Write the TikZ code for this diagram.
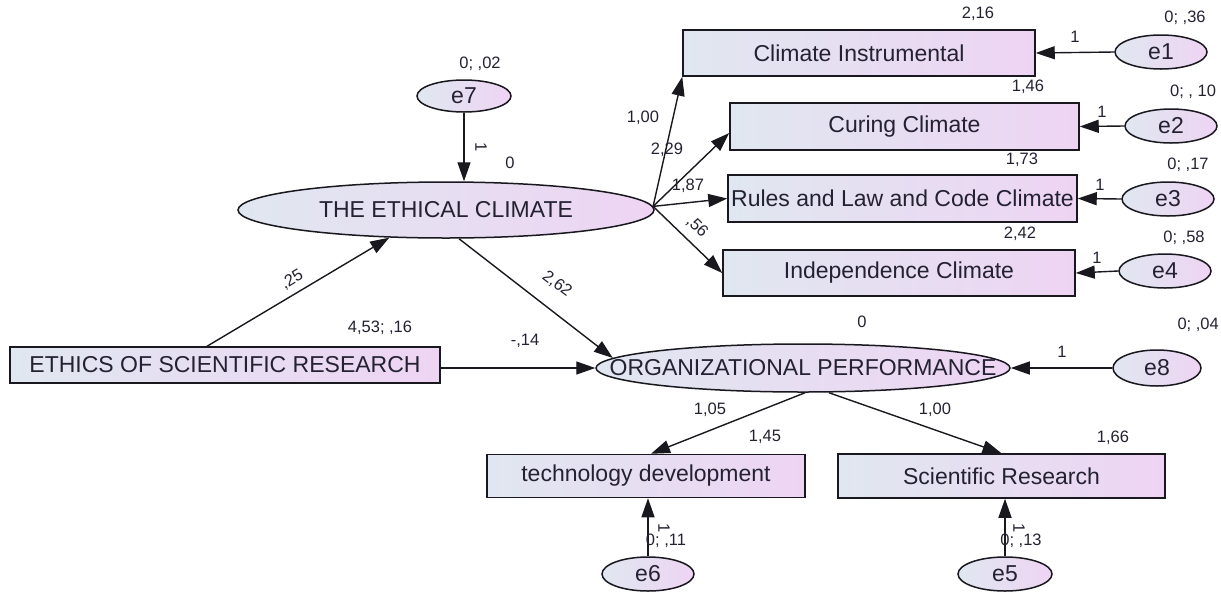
\documentclass[tikz,border=0pt]{standalone}
\usepackage{fontspec}
\setmainfont{Liberation Sans}
\usetikzlibrary{shapes.geometric,arrows.meta}
\definecolor{fillL}{RGB}{224,231,240}
\definecolor{fillR}{RGB}{238,212,243}
\definecolor{ink}{RGB}{24,24,30}
\definecolor{txt}{RGB}{36,34,50}
\begin{document}
\begin{tikzpicture}[x=1pt,y=-1pt,
  obs/.style={draw=ink,line width=1.5pt,left color=fillL,right color=fillR,
    inner sep=0pt,font=\fontsize{23}{25}\selectfont,text=txt},
  lat/.style={ellipse,obs},
  errv/.style={ellipse,obs,minimum width=92pt,minimum height=34pt},
  pth/.style={draw=ink,line width=1.4pt,-{Triangle[length=19pt,width=13pt]}},
  num/.style={font=\fontsize{16.5}{18}\selectfont,text=txt,inner sep=0pt},
]
\useasboundingbox (0,0) rectangle (1221,598);

% observed indicators
\node[obs,minimum width=352pt,minimum height=46pt] (ci) at (859,53) {Climate Instrumental};
\node[obs,minimum width=349pt,minimum height=47pt] (cc) at (904.5,126.5) {Curing Climate};
\node[obs,minimum width=349pt,minimum height=47pt] (rl) at (902.5,198.5) {Rules and Law and Code Climate};
\node[obs,minimum width=352pt,minimum height=46pt] (ic) at (899,273) {Independence Climate};
\node[obs,minimum width=430pt,minimum height=36pt] (esr) at (225,365) {ETHICS OF SCIENTIFIC RESEARCH};
\node[obs,minimum width=318pt,minimum height=43pt] (td) at (646,476) {technology development};
\node[obs,minimum width=327pt,minimum height=44pt] (sr) at (1001.5,476) {Scientific Research};

% latent variables
\node[lat,minimum width=416pt,minimum height=56pt,
  label={[font=\fontsize{23}{25}\selectfont,text=txt]center:THE ETHICAL CLIMATE}] (ec) at (446,210) {};
\node[lat,minimum width=414pt,minimum height=48pt,
  label={[font=\fontsize{23}{25}\selectfont,text=txt]center:ORGANIZATIONAL PERFORMANCE}] (org) at (803,368) {};

% error terms
\node[errv] (e1) at (1161,52) {e1};
\node[errv] (e2) at (1171,126) {e2};
\node[errv] (e3) at (1168,199) {e3};
\node[errv] (e4) at (1165,271) {e4};
\node[errv,minimum width=94pt,minimum height=32pt] (e7) at (464,96) {e7};
\node[errv,minimum width=88pt,minimum height=36pt] (e8) at (1157,368) {e8};
\node[errv] (e6) at (648,574) {e6};
\node[errv,minimum width=94pt] (e5) at (1005,574) {e5};

% paths
\draw[pth] (e1.west) -- (ci.east);
\draw[pth] (e2.west) -- (cc.east);
\draw[pth] (e3.west) -- (rl.east);
\draw[pth] (e4.west) -- (ic.east);
\draw[pth] (e7.south) -- (e7.south |- ec.north);
\draw[pth] (ec.1.5) -- (ci.south west);
\draw[pth] (ec.1.5) -- ([yshift=-6.5pt]cc.west);
\draw[pth] (ec.1.5) -- (rl.west);
\draw[pth] (ec.1.5) -- (ic.west);
\draw[pth] ([xshift=-18pt]esr.north) -- (ec.206);
\draw[pth] (esr.east |- org.west) -- (org.west);
\draw[pth] ([xshift=13pt]ec.south) -- (org.177);
\draw[pth] (e8.west) -- (org.east);
\draw[pth] ([xshift=2pt]org.south) -- ([xshift=5pt]td.north);
\draw[pth] ([xshift=26pt]org.south) -- (sr.north);
\draw[pth] (e6.north) -- (e6.north |- td.south);
\draw[pth] (e5.north) -- (e5.north |- sr.south);

% estimates
\node[num] (v1) at (978,14) {2,16};
\node[num] (v2) at (1028,87) {1,46};
\node[num] (v3) at (1022,160) {1,73};
\node[num] (v4) at (1020,234) {2,42};
\node[num] (v5) at (1185,18) {0; ,36};
\node[num] (v6) at (1193,92) {0; , 10};
\node[num] (v7) at (1188,165) {0; ,17};
\node[num] (v8) at (1184,238) {0; ,58};
\node[num] (w1) at (1075,37) {1};
\node[num] (w2) at (1102,112) {1};
\node[num] (w3) at (1100,185) {1};
\node[num] (w4) at (1097,258) {1};
\node[num] (v9) at (480,64) {0; ,02};
\node[num,rotate=-90] (w7) at (481,147) {1};
\node[num] (v10) at (510,163) {0};
\node[num] (p1) at (643,118) {1,00};
\node[num] (p2) at (667,150) {2,29};
\node[num] (p3) at (688,186) {1,87};
\node[num,rotate=-45] (p4) at (697,227) {,56};
\node[num,rotate=31] (p5) at (292,280) {,25};
\node[num,rotate=-37] (p6) at (557,284) {2,62};
\node[num] (v11) at (380,328) {4,53; ,16};
\node[num] (p7) at (525,341) {-,14};
\node[num] (v12) at (862,322) {0};
\node[num,anchor=east] (v13) at (1219,325) {0; ,04};
\node[num] (w8) at (1062,352) {1};
\node[num] (p8) at (710,410) {1,05};
\node[num] (p9) at (935,410) {1,00};
\node[num] (v14) at (765,437) {1,45};
\node[num] (v15) at (1113,438) {1,66};
\node[num] (v16) at (666,541) {0; ,11};
\node[num,rotate=-90] (w6) at (664,528) {1};
\node[num] (v17) at (1021,541) {0; ,13};
\node[num,rotate=-90] (w5) at (1019,528) {1};
\end{tikzpicture}
\end{document}
